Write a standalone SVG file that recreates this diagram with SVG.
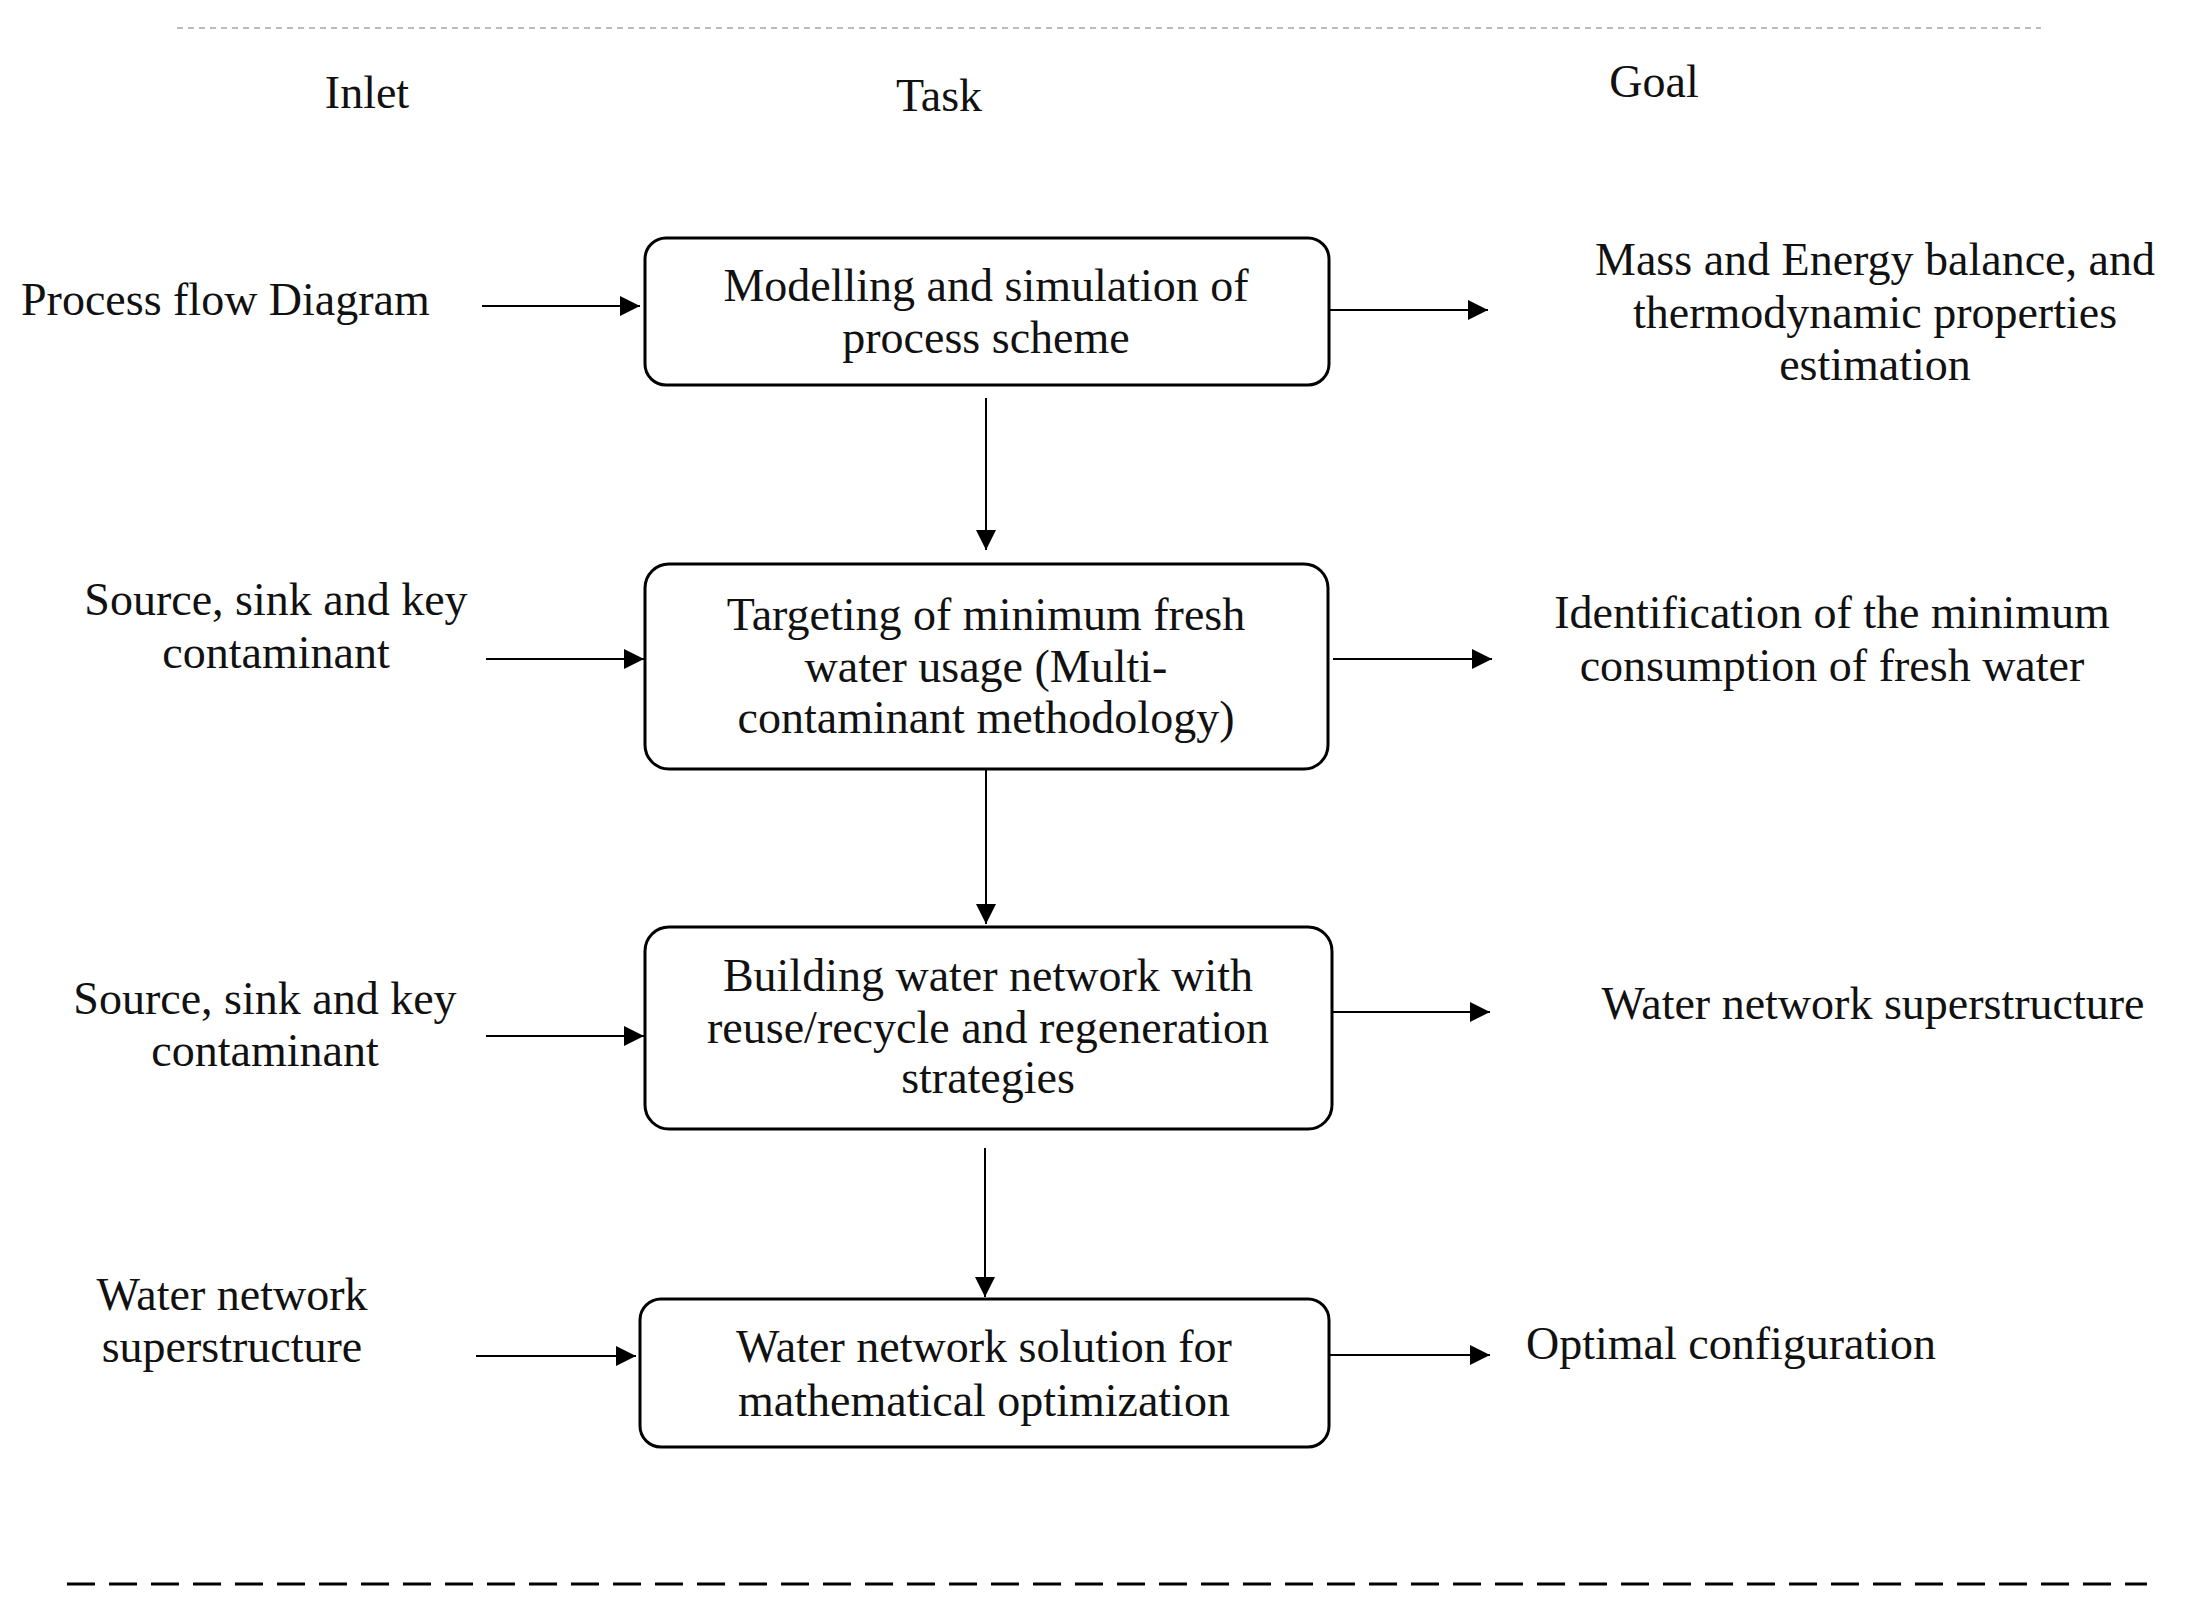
<svg xmlns="http://www.w3.org/2000/svg" width="2199" height="1599" viewBox="0 0 2199 1599">
<style>
text{font-family:"Liberation Serif","DejaVu Serif",serif;font-size:46px;fill:#111;dominant-baseline:central}
.c{text-anchor:middle}
.box{fill:#fff;stroke:#000;stroke-width:3}
.ar{stroke:#000;stroke-width:2;fill:none}
</style>
<defs><marker id="ah2" viewBox="0 0 10 10" refX="10" refY="5" markerWidth="22" markerHeight="20" markerUnits="userSpaceOnUse" orient="auto"><path d="M0,0L10,5L0,10z" fill="#000"/></marker></defs>
<rect width="2199" height="1599" fill="#fff"/>
<line x1="177" y1="28" x2="2041" y2="28" stroke="#bbb" stroke-width="2" stroke-dasharray="6,5"/>
<line x1="67" y1="1584" x2="2147" y2="1584" stroke="#000" stroke-width="3" stroke-dasharray="28,14"/>
<text class="c" x="367" y="92">Inlet</text>
<text class="c" x="939" y="95">Task</text>
<text class="c" x="1654" y="81">Goal</text>
<g id="n1"><rect class="box" x="645" y="238" width="684" height="147" rx="21"/><text class="c" x="986" y="285">Modelling and simulation of</text><text class="c" x="986" y="337">process scheme</text></g>
<g id="n2"><rect class="box" x="645" y="564" width="683" height="205" rx="24"/><text class="c" x="986" y="614">Targeting of minimum fresh</text><text class="c" x="986" y="666">water usage (Multi-</text><text class="c" x="986" y="717">contaminant methodology)</text></g>
<g id="n3"><rect class="box" x="645" y="927" width="687" height="202" rx="24"/><text class="c" x="988" y="975">Building water network with</text><text class="c" x="988" y="1027">reuse/recycle and regeneration</text><text class="c" x="988" y="1077">strategies</text></g>
<g id="n4"><rect class="box" x="640" y="1299" width="689" height="148" rx="21"/><text class="c" x="984" y="1346">Water network solution for</text><text class="c" x="984" y="1400">mathematical optimization</text></g>
<g id="in1"><text x="21" y="299">Process flow Diagram</text></g>
<g id="in2"><text class="c" x="276" y="599">Source, sink and key</text><text class="c" x="276" y="652">contaminant</text></g>
<g id="in3"><text class="c" x="265" y="998">Source, sink and key</text><text class="c" x="265" y="1050">contaminant</text></g>
<g id="in4"><text class="c" x="232" y="1294">Water network</text><text class="c" x="232" y="1346">superstructure</text></g>
<g id="g1"><text class="c" x="1875" y="259">Mass and Energy balance, and</text><text class="c" x="1875" y="312">thermodynamic  properties</text><text class="c" x="1875" y="364">estimation</text></g>
<g id="g2"><text class="c" x="1832" y="612">Identification of the minimum</text><text class="c" x="1832" y="665">consumption of fresh water</text></g>
<g id="g3"><text class="c" x="1873" y="1003">Water network superstructure</text></g>
<g id="g4"><text x="1526" y="1343">Optimal configuration</text></g>
<g id="connectors">
<line class="ar" x1="986" y1="398" x2="986" y2="550" marker-end="url(#ah2)"/>
<line class="ar" x1="986" y1="769" x2="986" y2="924" marker-end="url(#ah2)"/>
<line class="ar" x1="985" y1="1148" x2="985" y2="1297" marker-end="url(#ah2)"/>
<line class="ar" x1="482" y1="306" x2="640" y2="306" marker-end="url(#ah2)"/>
<line class="ar" x1="486" y1="659" x2="644" y2="659" marker-end="url(#ah2)"/>
<line class="ar" x1="486" y1="1036" x2="644" y2="1036" marker-end="url(#ah2)"/>
<line class="ar" x1="476" y1="1356" x2="636" y2="1356" marker-end="url(#ah2)"/>
<line class="ar" x1="1329" y1="310" x2="1488" y2="310" marker-end="url(#ah2)"/>
<line class="ar" x1="1333" y1="659" x2="1492" y2="659" marker-end="url(#ah2)"/>
<line class="ar" x1="1332" y1="1012" x2="1490" y2="1012" marker-end="url(#ah2)"/>
<line class="ar" x1="1329" y1="1355" x2="1490" y2="1355" marker-end="url(#ah2)"/>
</g>
</svg>
